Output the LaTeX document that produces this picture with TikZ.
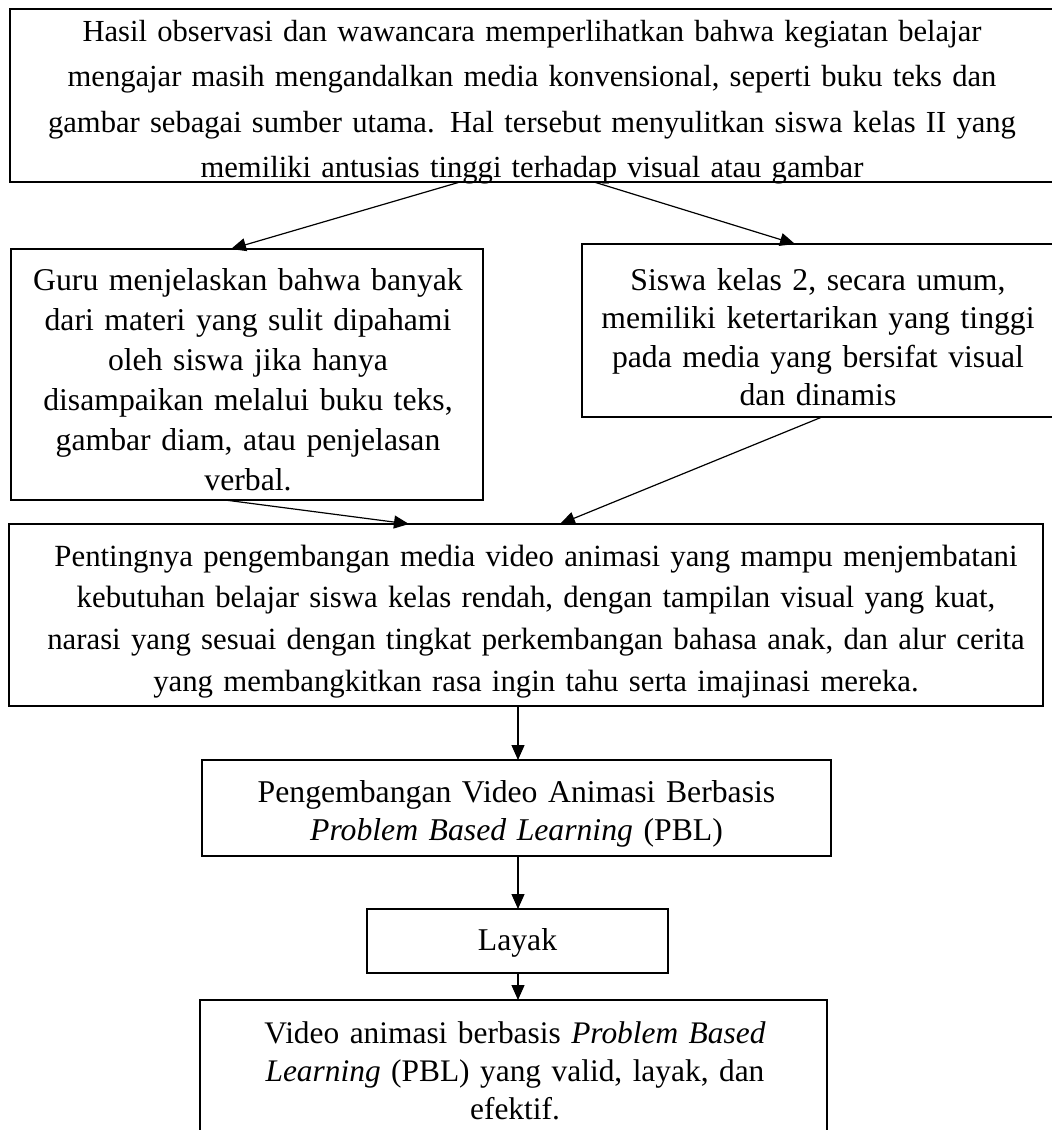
\documentclass[tikz,border=0pt]{standalone}
\usepackage{fontspec}
\setmainfont{Liberation Serif}
\usetikzlibrary{arrows.meta,calc}
\begin{document}
\begin{tikzpicture}[x=1pt,y=-1pt,
  box/.style={draw,line width=1.6pt,inner sep=0pt,outer sep=0pt,rectangle},
  txt/.style={anchor=base,align=center,inner sep=0pt,text width=#1},
  arr/.style={line width=1.2pt,-{Triangle[length=15pt,width=13pt]}}]
\useasboundingbox (0,0) rectangle (1052,1130);
% boxes
\node[box,minimum width=1044pt,minimum height=173pt] (top) at (532,95.5) {};
\node[box,minimum width=472pt,minimum height=251pt] (left) at (247,374.5) {};
\node[box,minimum width=472pt,minimum height=173pt] (right) at (818,330.5) {};
\node[box,minimum width=1034pt,minimum height=182pt] (mid) at (526,615) {};
\node[box,minimum width=629pt,minimum height=96pt] (pbl) at (516.5,808) {};
\node[box,minimum width=301pt,minimum height=64pt] (layak) at (517.5,941) {};
\node[box,minimum width=627pt,minimum height=160pt] (final) at (513.5,1080) {};
% texts
\node[txt=1040pt,font=\fontsize{30.6}{45.5}\selectfont] (ttop) at (532,41)
 {Hasil observasi dan wawancara memperlihatkan bahwa kegiatan belajar\\
  mengajar masih mengandalkan media konvensional, seperti buku teks dan\\
  gambar sebagai sumber utama. Hal tersebut menyulitkan siswa kelas II yang\\
  memiliki antusias tinggi terhadap visual atau gambar};
\node[txt=470pt,font=\fontsize{31.7}{40}\selectfont] (tleft) at (248,290)
 {Guru menjelaskan bahwa banyak\\ dari materi yang sulit dipahami\\ oleh siswa jika hanya\\
  disampaikan melalui buku teks,\\ gambar diam, atau penjelasan\\ verbal.};
\node[txt=470pt,font=\fontsize{31.7}{38.5}\selectfont] (tright) at (818,290)
 {Siswa kelas 2, secara umum,\\ memiliki ketertarikan yang tinggi\\ pada media yang bersifat visual\\ dan dinamis};
\node[txt=1030pt,font=\fontsize{30.8}{41.8}\selectfont] (tmid) at (536,566)
 {Pentingnya pengembangan media video animasi yang mampu menjembatani\\
  kebutuhan belajar siswa kelas rendah, dengan tampilan visual yang kuat,\\
  narasi yang sesuai dengan tingkat perkembangan bahasa anak, dan alur cerita\\
  yang membangkitkan rasa ingin tahu serta imajinasi mereka.};
\node[txt=620pt,font=\fontsize{31.7}{38}\selectfont] (tpbl) at (516.5,802)
 {Pengembangan Video Animasi Berbasis\\ \emph{Problem Based Learning} (PBL)};
\node[txt=300pt,font=\fontsize{31.7}{38}\selectfont] (tlayak) at (517.5,950) {Layak};
\node[txt=620pt,font=\fontsize{31.4}{38}\selectfont] (tfinal) at (515,1043)
 {Video animasi berbasis \emph{Problem Based}\\ \emph{Learning} (PBL) yang valid, layak, dan\\ efektif.};
% connectors
\draw[arr] ($(top.south west)+(450,0)$) -- ($(left.north west)+(220,0)$);
\draw[arr] ($(top.south west)+(584,0)$) -- ($(right.north west)+(213,0)$);
\draw[arr] ($(left.south west)+(214,0)$) -- ($(mid.north west)+(400,0)$);
\draw[arr] ($(right.south west)+(240,0)$) -- ($(mid.north west)+(551,0)$);
\draw[arr] ($(mid.south west)+(509,0)$) -- ($(pbl.north west)+(316,0)$);
\draw[arr] ($(pbl.south west)+(316,0)$) -- ($(layak.north west)+(151,0)$);
\draw[arr] ($(layak.south west)+(151,0)$) -- ($(final.north west)+(318,0)$);
\end{tikzpicture}
\end{document}
